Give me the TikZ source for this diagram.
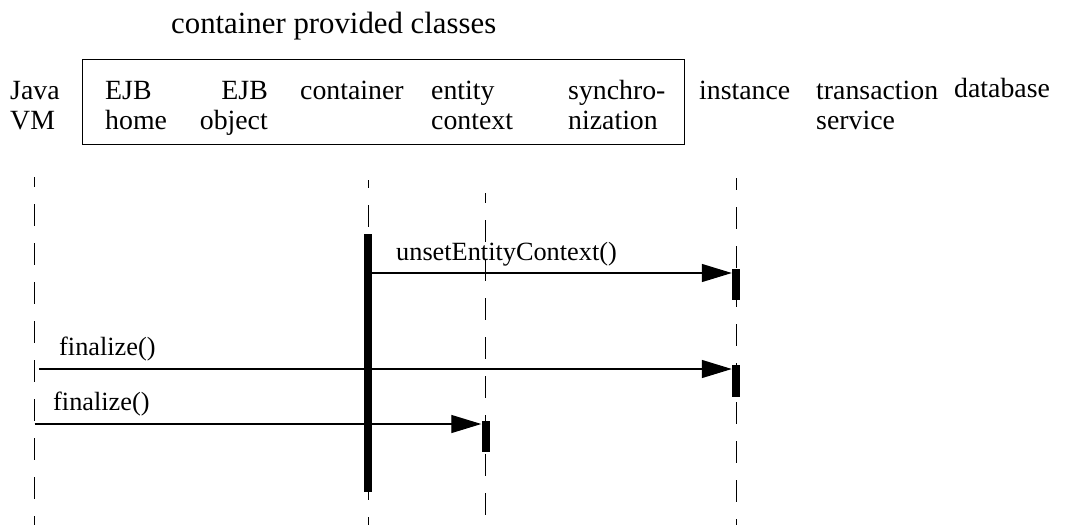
\documentclass[tikz,border=0pt]{standalone}
\usepackage{fontspec}
\setmainfont{Liberation Serif}
\usetikzlibrary{arrows.meta}
\begin{document}
\begin{tikzpicture}[x=1pt,y=-1pt,
  hdr/.style={inner sep=0pt, font=\fontsize{27.8}{30}\selectfont, align=left, anchor=base west},
  ttl/.style={inner sep=0pt, font=\fontsize{30.8}{30}\selectfont, anchor=base west},
  lbl/.style={inner sep=0pt, font=\fontsize{26.3}{28}\selectfont, anchor=base west},
  life/.style={line width=0.9pt, dash pattern=on 22pt off 17pt},
  actbar/.style={fill=black, draw=none, minimum width=8pt, inner sep=0pt, anchor=north},
  msg/.style={line width=1.3pt, -{Triangle[length=30pt,width=18pt]}},
  groupbox/.style={draw, line width=1.3pt, inner sep=0pt, anchor=north west},
]
\useasboundingbox (0,0) rectangle (1078,525);

% title and group box
\node[ttl] (title) at (171,33) {container provided classes};
\node[groupbox, minimum width=602pt, minimum height=85pt] (cpc) at (82,59) {};

% participants (two-line nodes: base = baseline of the last line)
\node[hdr] (java) at (10,129) {Java\\VM};
\node[hdr] (ejbhome) at (105,129) {EJB\\home};
\node[hdr, align=right, anchor=base east] (ejbobject) at (268,129) {EJB\\object};
\node[hdr] (container) at (300,99) {container};
\node[hdr] (entity) at (431,129) {entity\\context};
\node[hdr] (sync) at (568,129) {synchro-\\nization};
\node[hdr] (instance) at (699,99) {instance};
\node[hdr] (transaction) at (816,129) {transaction\\service};
\node[hdr] (database) at (954,97) {database};

% lifelines
\coordinate (jtop) at (34.5,177);  \coordinate (jbot) at (34.5,525);
\coordinate (ctop) at (368,180);   \coordinate (cbot) at (368,525);
\coordinate (etop) at (485.5,193); \coordinate (ebot) at (485.5,525);
\coordinate (itop) at (736,178);   \coordinate (ibot) at (736,525);
\draw[life, dash phase=12pt] (jtop) -- (jbot);
\draw[life, dash phase=14pt] (ctop) -- (cbot);
\draw[life, dash phase=12pt] (etop) -- (ebot);
\draw[life, dash phase=10pt] (itop) -- (ibot);

% activation bars
\node[actbar, minimum height=258pt] (cbar) at (368,234) {};
\node[actbar, minimum height=31pt] (ibar1) at (736,269) {};
\node[actbar, minimum height=32pt] (ibar2) at (736,365) {};
\node[actbar, minimum height=31pt] (ebar) at (485.5,421) {};

% messages
\coordinate (u1) at ([yshift=-4pt]ibar1.north west);
\draw[msg] (cbar.east |- u1) -- (u1);
\node[lbl] (ulbl) at (396,260) {unsetEntityContext()};

\coordinate (f1s) at (39,369);
\draw[msg] (f1s) -- (f1s -| ibar2.west);
\node[lbl] (f1lbl) at (59,355) {finalize()};

\coordinate (f2s) at (34.5,424);
\draw[msg] (f2s) -- (f2s -| ebar.west);
\node[lbl] (f2lbl) at (53,410) {finalize()};
\end{tikzpicture}
\end{document}
